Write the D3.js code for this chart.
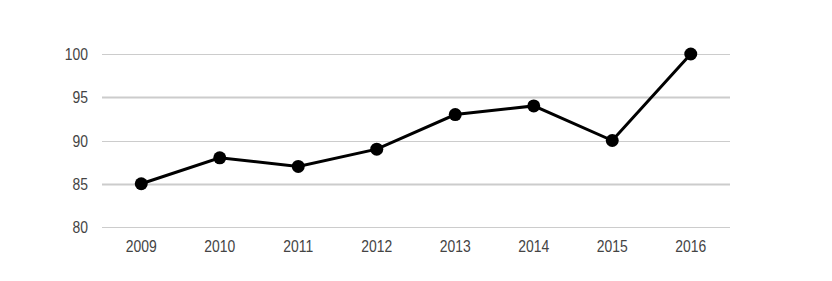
<!DOCTYPE html>
<html>
<head>
<meta charset="utf-8">
<script src="https://cdn.jsdelivr.net/npm/d3@7"></script>
<style>
  body { margin: 0; background: #fff; }
  .tick-label { font-family: "Liberation Sans", Arial, sans-serif; font-size: 17px; fill: #444; }
</style>
</head>
<body>
<div id="chart"></div>
<script>
var years = ["2009", "2010", "2011", "2012", "2013", "2014", "2015", "2016"];
var values = [85, 88, 87, 89, 93, 94, 90, 100];
var yTicks = [80, 85, 90, 95, 100];

function drawChart(elm) {
  var width = 832, height = 281;
  var left = 102, right = 730;
  var squeeze = 0.82; // labels in the original are condensed

  var svg = d3.select(elm)
    .append("svg")
    .attr("width", width)
    .attr("height", height);

  // scales
  var x = d3.scaleBand()
    .domain(years)
    .range([left, right]);
  var y = d3.scaleLinear()
    .domain([80, 100])
    .range([227, 54]);

  // gridlines
  svg.append("g")
    .selectAll("line")
    .data(yTicks)
    .join("line")
    .attr("x1", left)
    .attr("x2", right)
    .attr("y1", d => Math.round(y(d)) + 0.5)
    .attr("y2", d => Math.round(y(d)) + 0.5)
    .attr("stroke", "#cccccc")
    .attr("stroke-width", d => d == 85 || d == 95 ? 2 : 1.2);

  // y labels
  svg.append("g")
    .selectAll("text")
    .data(yTicks)
    .join("text")
    .attr("class", "tick-label")
    .attr("transform", d => `translate(88,${y(d)}) scale(${squeeze},1)`)
    .attr("dy", "0.36em")
    .attr("text-anchor", "end")
    .text(d => d);

  // x labels
  svg.append("g")
    .selectAll("text")
    .data(years)
    .join("text")
    .attr("class", "tick-label")
    .attr("transform", d => `translate(${x(d) + x.bandwidth() / 2},252) scale(${squeeze},1)`)
    .attr("text-anchor", "middle")
    .text(d => d);

  var pts = years.map((yr, i) => ({ year: yr, v: values[i] }));

  // line
  svg.append("path")
    .datum(pts)
    .attr("fill", "none")
    .attr("stroke", "#000")
    .attr("stroke-width", 3)
    .attr("d", d3.line()
      .x(d => x(d.year) + x.bandwidth() / 2)
      .y(d => y(d.v)));

  // markers
  svg.append("g")
    .selectAll("circle")
    .data(pts)
    .join("circle")
    .attr("cx", d => x(d.year) + x.bandwidth() / 2)
    .attr("cy", d => y(d.v))
    .attr("r", 6.5)
    .attr("fill", "#000");
}

drawChart("#chart");
</script>
</body>
</html>
